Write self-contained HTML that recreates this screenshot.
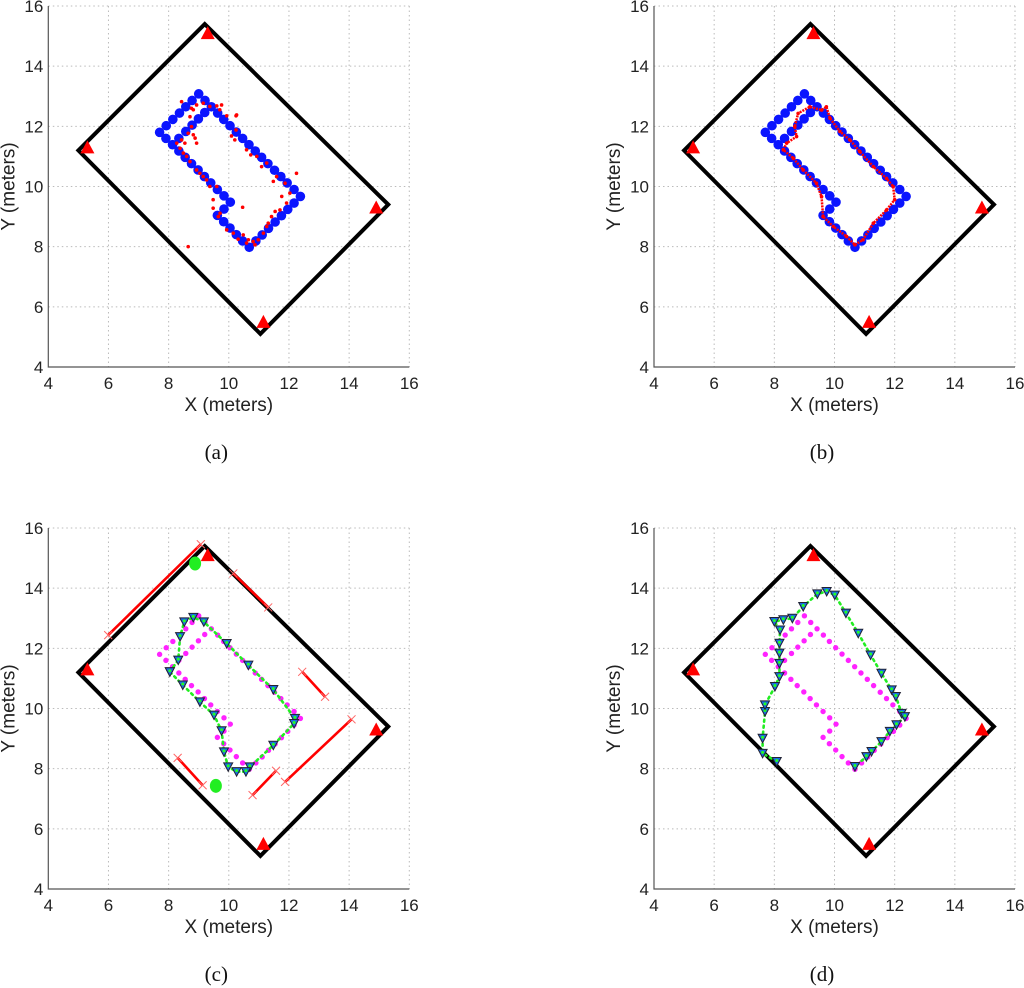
<!DOCTYPE html>
<html><head><meta charset="utf-8">
<style>
html,body{margin:0;padding:0;background:#fff;}
svg{display:block;}
text{font-family:"Liberation Sans",Arial,sans-serif;fill:#222;}
.cap{font-family:"Liberation Serif","Times New Roman",serif;font-size:21px;fill:#111;}
</style></head>
<body>
<svg id="fig" width="1024" height="988" viewBox="0 0 1024 988" xmlns="http://www.w3.org/2000/svg"></svg>
<script>
// ---- data ----
const xTicks=[4,6,8,10,12,14,16];
const yTicks=[4,6,8,10,12,14,16];
const roomX=[5,9.2,15.3,11.05];
const roomY=[11.2,15.4,9.4,5.1];
const anchorX=[9.3,5.3,14.9,11.15];
const anchorY=[15.1,11.3,9.3,5.5];
const gtX=[7.7,7.92,8.14,8.36,8.57,8.78,9.0,9.21,9.42,9.63,9.83,10.04,10.25,10.46,10.67,10.88,11.09,11.3,11.52,11.73,11.94,12.17,12.38,12.17,11.96,11.75,11.54,11.32,11.11,10.9,10.68,10.46,10.25,10.04,9.83,9.62,9.84,10.05,9.84,9.62,9.4,9.19,8.98,8.76,8.55,8.34,8.13,7.91,8.34,8.57,8.78,8.99,9.2];
const gtY=[11.8,12.02,12.23,12.44,12.65,12.86,13.08,12.86,12.65,12.44,12.23,12.02,11.81,11.6,11.39,11.18,10.97,10.76,10.54,10.33,10.12,9.9,9.67,9.45,9.24,9.03,8.82,8.61,8.39,8.19,7.98,8.19,8.4,8.62,8.83,9.04,9.25,9.48,9.69,9.9,10.12,10.33,10.55,10.76,10.97,11.18,11.39,11.6,11.6,11.83,12.04,12.25,12.46];
const scatX=[8.43,8.76,8.93,9.15,9.37,9.6,9.76,9.7,9.93,10.24,10.09,10.59,10.93,11.26,11.59,11.87,12.25,12.03,11.92,11.7,11.42,11.26,11.15,10.98,10.81,10.59,10.31,10.15,9.93,9.65,9.48,9.48,9.37,9.15,8.93,8.6,8.38,8.27,8.43,8.65,8.82,8.76,8.71,8.82,8.65,10.46,10.24,10.73,11.09,11.48,11.76,11.54,11.31,10.87,10.65,10.48,9.71,9.6,9.26,9.04,8.71,8.49,8.54,8.88,8.93,10.2,10.26];
const scatY=[12.82,12.6,12.71,12.77,12.66,12.68,12.71,12.55,12.35,12.35,11.68,11.22,11.0,10.78,10.33,10.11,10.44,9.78,9.45,9.22,9.0,8.67,8.45,8.23,8.17,8.12,8.25,8.45,8.56,9.0,9.28,9.56,10.0,10.33,10.55,11.0,11.27,11.44,11.55,11.77,11.72,11.99,12.32,12.55,8.0,9.31,11.88,11.05,10.66,10.17,9.67,9.17,8.78,8.06,8.23,8.39,9.11,10.0,10.22,10.44,10.83,11.11,11.44,11.61,11.44,11.55,12.38];
const loopX=[8.3,8.41,8.74,8.68,8.79,9.18,9.57,9.73,9.85,10.18,10.51,10.84,11.29,11.73,11.95,12.0,11.73,11.29,10.95,10.68,10.4,9.96,9.62,9.57,9.4,8.96,8.63,8.3];
const loopY=[11.22,11.44,11.66,11.99,12.43,12.65,12.54,12.65,12.27,11.83,11.55,11.16,10.66,10.27,10.0,9.56,9.22,8.78,8.23,8.06,8.34,8.67,9.0,9.66,10.11,10.55,10.94,11.22];
const trkCX=[8.04,8.32,8.38,8.52,8.82,9.17,9.93,10.65,11.48,12.2,12.17,11.48,10.7,10.57,10.26,9.98,9.84,9.76,9.51,9.04,8.47,8.04];
const trkCY=[11.22,11.61,12.39,12.88,13.03,12.88,12.16,11.44,10.63,9.67,9.5,8.78,8.06,7.9,7.9,8.06,8.56,9.26,9.78,10.22,10.78,11.22];
const wallX1=[5.99,10.15,12.44,11.87,10.79,8.3];
const wallY1=[12.44,14.49,11.22,7.56,7.12,8.36];
const wallX2=[9.07,11.31,13.2,14.08,11.57,9.13];
const wallY2=[15.46,13.36,10.39,9.64,7.93,7.45];
const blobX=[8.88,9.57];
const blobY=[14.82,7.43];
const trkDX=[8.08,7.61,7.61,7.69,7.69,8.02,8.17,8.17,8.17,8.17,8.19,8.0,8.3,8.6,8.96,9.43,9.74,10.01,10.38,10.79,11.2,11.56,11.9,12.04,12.23,12.34,12.06,11.84,11.56,11.23,11.06,10.68];
const trkDY=[8.24,8.51,9.01,9.9,10.12,10.73,11.06,11.5,11.84,12.17,12.61,12.89,12.95,13.0,13.39,13.81,13.89,13.77,13.17,12.5,11.78,11.17,10.62,10.4,9.84,9.73,9.46,9.24,8.9,8.57,8.4,8.07];
const captions=["(a)","(b)","(c)","(d)"];

// ---- drawing ----
const NS="http://www.w3.org/2000/svg";
const svg=document.getElementById('fig');
function mk(tag,parent){const e=document.createElementNS(NS,tag);parent.appendChild(e);return e;}
const W=361,H=361,XMIN=4,XMAX=16,YMIN=4,YMAX=16;
const panels=[{l:48.3,t:6,k:'a'},{l:654,t:6,k:'b'},{l:48.3,t:528,k:'c'},{l:654,t:528,k:'d'}];

panels.forEach((p,pi)=>{
  const sx=v=>p.l+(v-XMIN)/(XMAX-XMIN)*W;
  const sy=v=>p.t+(YMAX-v)/(YMAX-YMIN)*H;
  const g=mk('g',svg);
  
  
  // grid
  xTicks.forEach(t=>{if(t===XMIN)return;const l=mk('line',g);l.setAttribute('x1',sx(t));l.setAttribute('x2',sx(t));l.setAttribute('y1',p.t);l.setAttribute('y2',p.t+H);l.setAttribute('stroke','#bbb');l.setAttribute('stroke-dasharray','1.5,3');
    
    });
  yTicks.forEach(t=>{if(t===YMIN)return;const l=mk('line',g);l.setAttribute('y1',sy(t));l.setAttribute('y2',sy(t));l.setAttribute('x1',p.l);l.setAttribute('x2',p.l+W);l.setAttribute('stroke','#bbb');l.setAttribute('stroke-dasharray','1.5,3');
    
    });
  // axes
  const ax=mk('path',g);ax.setAttribute('d',`M${p.l},${p.t} V${p.t+H} H${p.l+W}`);ax.setAttribute('fill','none');ax.setAttribute('stroke','#555');ax.setAttribute('stroke-width','1.2');
  
  
  xTicks.forEach(t=>{const tx=mk('text',g);tx.textContent=t;tx.setAttribute('x',sx(t));tx.setAttribute('y',p.t+H+22);tx.setAttribute('text-anchor','middle');tx.setAttribute('font-size','17');
    
    });
  yTicks.forEach(t=>{const tx=mk('text',g);tx.textContent=t;tx.setAttribute('x',p.l-5);tx.setAttribute('y',sy(t)+6);tx.setAttribute('text-anchor','end');tx.setAttribute('font-size','17');
    
    });
  const xl=mk('text',g);xl.textContent='X (meters)';xl.setAttribute('x',p.l+W/2);xl.setAttribute('y',p.t+H+44);xl.setAttribute('text-anchor','middle');xl.setAttribute('font-size','19');
  
  
  const yl=mk('text',g);yl.textContent='Y (meters)';const yc=p.t+H/2;yl.setAttribute('transform',`translate(${p.l-34},${yc}) rotate(-90)`);yl.setAttribute('text-anchor','middle');yl.setAttribute('font-size','19');
  
  
  const cp=mk('text',g);cp.textContent=captions[pi];cp.setAttribute('class','cap');cp.setAttribute('x',p.l+168);cp.setAttribute('y',p.t+H+92);cp.setAttribute('text-anchor','middle');
  
  

  // room
  const room=mk('polygon',g);room.setAttribute('points',roomX.map((v,i)=>sx(v)+','+sy(roomY[i])).join(' '));room.setAttribute('fill','none');room.setAttribute('stroke','#000');room.setAttribute('stroke-width','4');room.setAttribute('stroke-linejoin','miter');
  
  
  // red walls (c)
  if(p.k==='c'){
    wallX1.forEach((v,i)=>{
      const l=mk('line',g);l.setAttribute('x1',sx(wallX1[i]));l.setAttribute('y1',sy(wallY1[i]));l.setAttribute('x2',sx(wallX2[i]));l.setAttribute('y2',sy(wallY2[i]));l.setAttribute('stroke','#f00');l.setAttribute('stroke-width','2.6');
      
      
      [[wallX1[i],wallY1[i]],[wallX2[i],wallY2[i]]].forEach(q=>{
        const m=mk('path',g);const cx=sx(q[0]),cy=sy(q[1]);m.setAttribute('d',`M${cx-4},${cy-4}L${cx+4},${cy+4}M${cx-4},${cy+4}L${cx+4},${cy-4}`);m.setAttribute('stroke','#f66');m.setAttribute('stroke-width','1');
        
        
      });
    });
  }
  // anchors
  anchorX.forEach((v,i)=>{const cx=sx(v),cy=sy(anchorY[i]);const t=mk('polygon',g);t.setAttribute('points',`${cx},${cy-7} ${cx-7},${cy+6} ${cx+7},${cy+6}`);t.setAttribute('fill','#f00');
    
    });
  // ground truth
  gtX.forEach((v,i)=>{const c=mk('circle',g);c.setAttribute('cx',sx(v));c.setAttribute('cy',sy(gtY[i]));
    const big=(p.k==='a'||p.k==='b');c.setAttribute('r',big?4.8:2.7);c.setAttribute('fill',big?'#0a14ff':'#ff22ff');
    
    });
  if(p.k==='a'){
    scatX.forEach((v,i)=>{const c=mk('circle',g);c.setAttribute('cx',sx(v));c.setAttribute('cy',sy(scatY[i]));c.setAttribute('r',1.8);c.setAttribute('fill','#f00');
      
      });
  }
  if(p.k==='b'){
    const pl=mk('polyline',g);pl.setAttribute('points',loopX.map((v,i)=>sx(v)+','+sy(loopY[i])).join(' '));pl.setAttribute('fill','none');pl.setAttribute('stroke','#f00');pl.setAttribute('stroke-width','2.5');pl.setAttribute('stroke-dasharray','2,1');
    
    
    loopX.forEach((v,i)=>{const c=mk('circle',g);c.setAttribute('cx',sx(v));c.setAttribute('cy',sy(loopY[i]));c.setAttribute('r',1.8);c.setAttribute('fill','#f00');
      
      });
  }
  if(p.k==='c'||p.k==='d'){
    const X=p.k==='c'?trkCX:trkDX, Y=p.k==='c'?trkCY:trkDY;
    const pl=mk('polyline',g);pl.setAttribute('points',X.map((v,i)=>sx(v)+','+sy(Y[i])).join(' '));pl.setAttribute('fill','none');pl.setAttribute('stroke','#22ee22');pl.setAttribute('stroke-width','2.6');pl.setAttribute('stroke-dasharray','2,4');pl.setAttribute('stroke-linecap','round');
    
    
    X.forEach((v,i)=>{const cx=sx(v),cy=sy(Y[i]);const t=mk('polygon',g);t.setAttribute('points',`${cx-4.5},${cy-4} ${cx+4.5},${cy-4} ${cx},${cy+4.5}`);t.setAttribute('fill','#1a6ee0');t.setAttribute('stroke','#223');t.setAttribute('stroke-width','1');
      
      
      const d=mk('circle',g);d.setAttribute('cx',cx);d.setAttribute('cy',cy-1);d.setAttribute('r',1.5);d.setAttribute('fill','#2f2');
      
      });
  }
  if(p.k==='c'){
    blobX.forEach((v,i)=>{const e=mk('ellipse',g);e.setAttribute('cx',sx(v));e.setAttribute('cy',sy(blobY[i]));e.setAttribute('rx',6);e.setAttribute('ry',7);e.setAttribute('fill','#22ee22');
      
      });
  }
});
</script>
</body></html>
